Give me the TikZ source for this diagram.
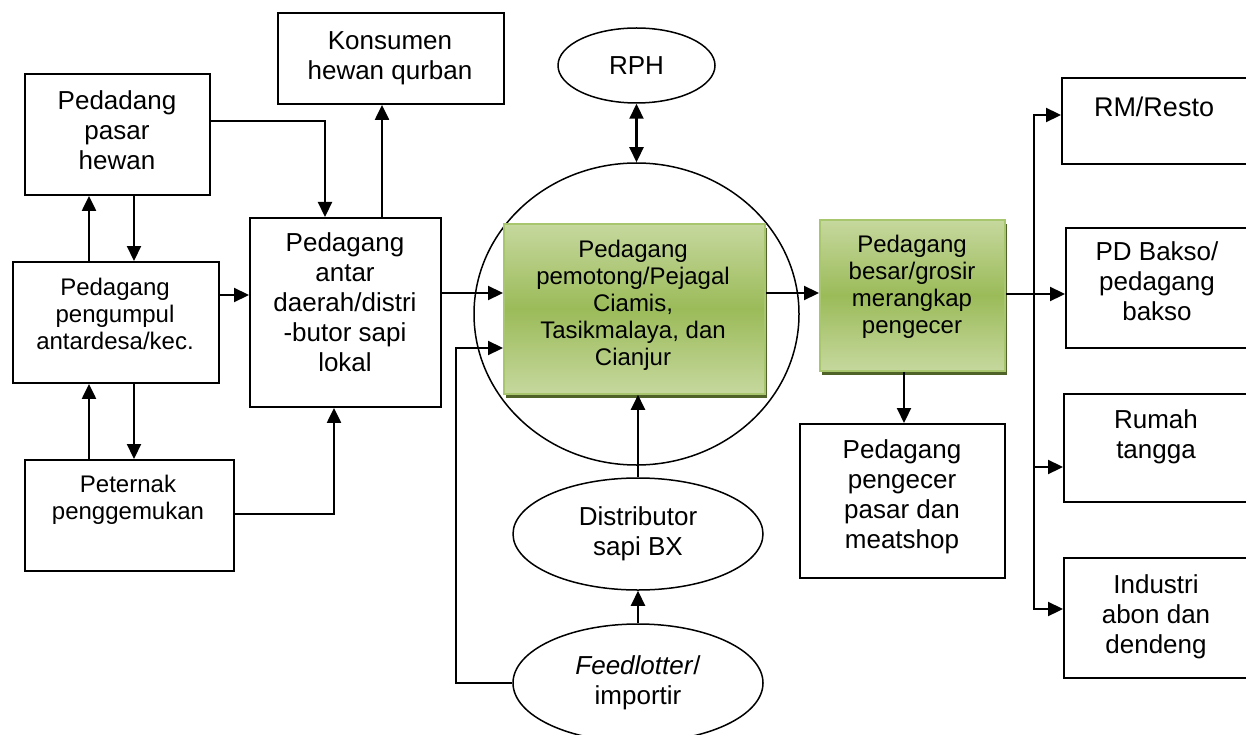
\documentclass[tikz,border=0pt]{standalone}
\usepackage{fontspec}
\setmainfont{Liberation Sans}
\usetikzlibrary{arrows.meta,shapes.geometric}
\definecolor{gLight}{RGB}{198,216,158}
\definecolor{gMid}{RGB}{155,187,89}
\definecolor{gEdge}{RGB}{168,198,110}
\definecolor{gShadow}{RGB}{79,98,40}
\tikzset{
  box/.style={draw, line width=1.9pt, inner sep=0pt, anchor=north west},
  gbox/.style={draw=gEdge, line width=1.8pt, inner sep=0pt, anchor=north west,
    top color=gLight, bottom color=gLight, middle color=gMid},
  oval/.style={draw, ellipse, line width=1.5pt, inner sep=0pt, align=center,
    font=\fontsize{26}{30}\selectfont},
  big/.style={align=center, inner sep=0pt, font=\fontsize{26}{30}\selectfont},
  small/.style={align=center, inner sep=0pt, font=\fontsize{24}{27}\selectfont},
  arr/.style={line width=2.2pt, -{Triangle[length=15pt,width=14pt]}},
  darr/.style={line width=2.2pt, {Triangle[length=15pt,width=14pt]}-{Triangle[length=15pt,width=14pt]}},
}
\begin{document}
\begin{tikzpicture}[x=1pt,y=-1pt]
\useasboundingbox (0,0) rectangle (1246,735);
\fill[white] (0,0) rectangle (1246,735);

% left boxes
\node[box, minimum width=185pt, minimum height=121pt] (pasar) at (24,73) {};
\node[big] (pasarT) at (117,130) {Pedadang\\pasar\\hewan};
\node[box, minimum width=206pt, minimum height=121pt] (kumpul) at (12,261) {};
\node[small] (kumpulT) at (115,314) {Pedagang\\pengumpul\\antardesa/kec.};
\node[box, minimum width=209pt, minimum height=111pt] (ternak) at (24,459) {};
\node[small] (ternakT) at (128,500) {Peternak\\penggemukan};
\node[box, minimum width=191pt, minimum height=189pt] (antar) at (249,217) {};
\node[big] (antarT) at (345,302) {Pedagang\\antar\\daerah/distri\\-butor sapi\\lokal};
\node[box, minimum width=226pt, minimum height=91pt] (kons) at (277,12) {};
\node[big] (konsT) at (390,58) {Konsumen\\hewan qurban};

% centre
\node[draw, ellipse, line width=1.5pt, minimum width=325pt, minimum height=302pt, inner sep=0pt] (circ) at (636.5,314) {};
\node[oval, minimum width=157pt, minimum height=75pt] (rph) at (636.5,65.5) {RPH};
\node[oval, minimum width=250pt, minimum height=112pt] (dist) at (638,534) {Distributor\\sapi BX};
\node[oval, minimum width=250pt, minimum height=118pt] (feed) at (638,683) {\textit{Feedlotter}/\\importir};

% green boxes with shadows
\fill[gShadow] (506,228) rectangle (767,398);
\node[gbox, minimum width=261pt, minimum height=170pt] (pem) at (503,223) {};
\node[small] (pemT) at (633,305) {Pedagang\\pemotong/Pejagal\\Ciamis,\\Tasikmalaya, dan\\Cianjur};
\fill[gShadow] (822,224) rectangle (1007,375);
\node[gbox, minimum width=185pt, minimum height=151pt] (gros) at (819,219) {};
\node[small] (grosT) at (912,287) {Pedagang\\besar/grosir\\merangkap\\pengecer};

% right boxes
\node[box, minimum width=205pt, minimum height=154pt] (ecer) at (799,423) {};
\node[big] (ecerT) at (902,497) {Pedagang\\pengecer\\pasar dan\\meatshop};
\node[box, minimum width=186pt, minimum height=86pt] (rm) at (1061,77) {};
\node[align=center, inner sep=0pt, font=\fontsize{27}{31}\selectfont] (rmT) at (1154,107) {RM/Resto};
\node[box, minimum width=182pt, minimum height=120pt] (pd) at (1065,227) {};
\node[big] (pdT) at (1157,281) {PD Bakso/\\pedagang\\bakso};
\node[box, minimum width=184pt, minimum height=108pt] (rumah) at (1063,393) {};
\node[big] (rumahT) at (1156,437) {Rumah\\tangga};
\node[box, minimum width=184pt, minimum height=120pt] (ind) at (1063,557) {};
\node[big] (indT) at (1156,617) {Industri\\abon dan\\dendeng};

% connectors left
\draw[arr] (kumpul.north -| 89,0) -- (pasar.south -| 89,0);
\draw[arr] (pasar.south -| 134,0) -- (kumpul.north -| 134,0);
\draw[arr] (ternak.north -| 89,0) -- (kumpul.south -| 89,0);
\draw[arr] (kumpul.south -| 134,0) -- (ternak.north -| 134,0);
\draw[arr] (kumpul.east |- 0,295) -- (antar.west |- 0,295);
\draw[arr] (pasar.east |- 0,121) -| (antar.north -| 325,0);
\draw[arr] (antar.north -| 382,0) -- (kons.south -| 382,0);
\draw[arr] (ternak.east |- 0,514) -| (antar.south -| 334,0);
\draw[arr] (antar.east |- 0,293) -- (pem.west |- 0,293);
\coordinate (fk) at (456,348);
\draw[arr] (feed.west) -| (fk) -- (pem.west |- fk);

% centre connectors
\draw[darr] (rph.south) -- (circ.north);
\draw[arr] (dist.north) -- (dist.north |- pem.south);
\draw[arr] (feed.north) -- (dist.south);

% right connectors
\draw[arr] (pem.east |- 0,293) -- (gros.west |- 0,293);
\draw[arr] (gros.south -| 904,0) -- (ecer.north -| 904,0);
\draw[arr] (gros.east |- 0,294) -- (pd.west |- 0,294);
\coordinate (bus) at (1034,400);
\draw[arr] (bus) |- (rm.west |- 0,115);
\draw[arr] (bus) |- (ind.west |- 0,609);
\draw[arr] (bus |- 0,467) -- (rumah.west |- 0,467);
\end{tikzpicture}
\end{document}
